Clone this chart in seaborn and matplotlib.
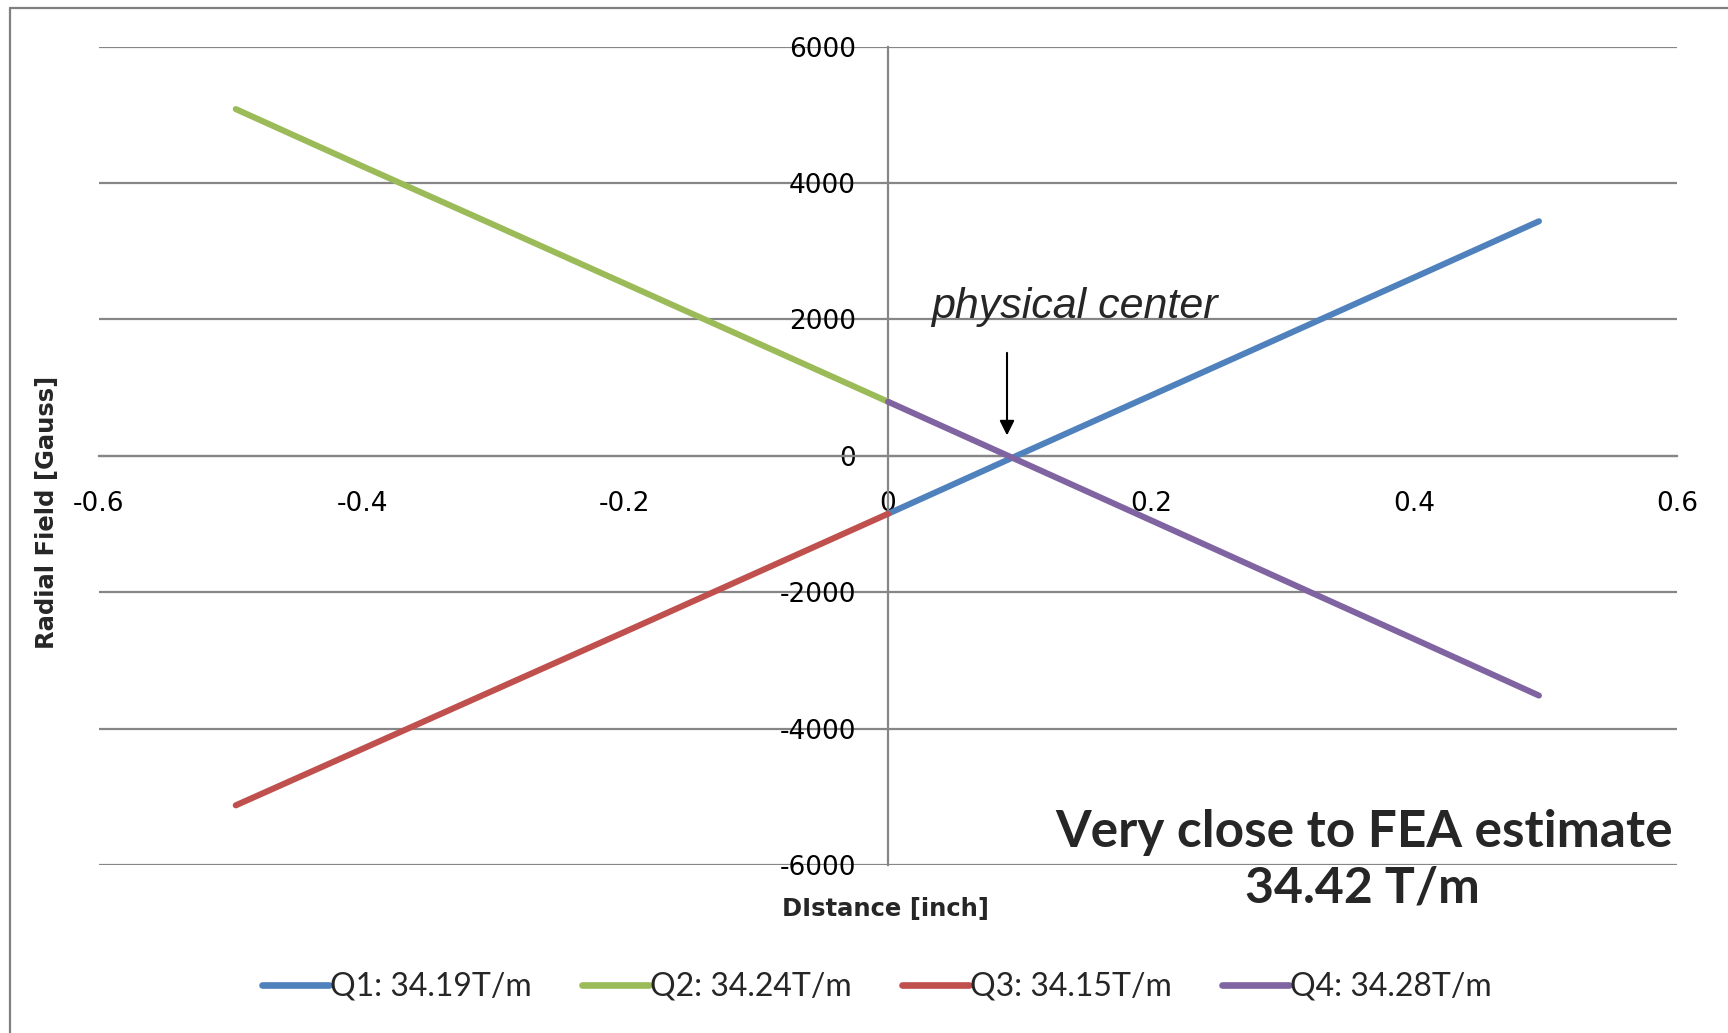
import matplotlib
matplotlib.use("Agg")
import matplotlib.pyplot as plt
import pandas as pd
import seaborn as sns
from matplotlib.lines import Line2D

# Radial field measured across each quadrant (distance in inch, field in Gauss)
q1_x = [0.0, 0.1, 0.2, 0.3, 0.4, 0.495]
q1_y = [-850, 20, 885, 1750, 2615, 3440]
q2_x = [-0.496, -0.4, -0.3, -0.2, -0.1, 0.0]
q2_y = [5085, 4250, 3390, 2525, 1660, 794]
q3_x = [-0.496, -0.4, -0.3, -0.2, -0.1, 0.0]
q3_y = [-5125, -4300, -3440, -2580, -1715, -850]
q4_x = [0.0, 0.1, 0.2, 0.3, 0.4, 0.495]
q4_y = [794, -75, -945, -1815, -2685, -3515]

series_labels = ["Q1: 34.19T/m", "Q2: 34.24T/m", "Q3: 34.15T/m", "Q4: 34.28T/m"]
series_colors = ["#4F81BD", "#9BBB59", "#C0504D", "#8064A2"]

x_ticks = [-0.6, -0.4, -0.2, 0.0, 0.2, 0.4, 0.6]
x_tick_labels = ["-0.6", "-0.4", "-0.2", "0", "0.2", "0.4", "0.6"]
y_ticks = [-6000, -4000, -2000, 0, 2000, 4000, 6000]
y_tick_labels = ["-6000", "-4000", "-2000", "0", "2000", "4000", "6000"]

center_note = "physical center"
center_x = 0.0905
estimate_note = ["Very close to FEA estimate", "34.42 T/m"]

sns.set_style("white")
plt.rcParams["font.family"] = ["DejaVu Sans"]
plt.rcParams["axes.unicode_minus"] = False

frames = []
for lab, xs, ys in zip(series_labels, [q1_x, q2_x, q3_x, q4_x], [q1_y, q2_y, q3_y, q4_y]):
    frames.append(pd.DataFrame({"x": xs, "y": ys, "series": lab}))
df = pd.concat(frames, ignore_index=True)

W, H = 1728, 1033
fig = plt.figure(figsize=(W / 100, H / 100), dpi=100)
ax = fig.add_axes([99 / W, 1 - 865 / H, (1677 - 99) / W, (865 - 46.7) / H])

grid_col = "#868686"
sns.lineplot(data=df, x="x", y="y", hue="series", hue_order=series_labels,
             palette=dict(zip(series_labels, series_colors)), sort=False,
             estimator=None, lw=4.4, legend=False, ax=ax, zorder=3)

ax.set_xlim(-0.6, 0.6)
ax.set_ylim(-6000, 6000)
ax.set_xticks(x_ticks, x_tick_labels)
ax.set_yticks(y_ticks, y_tick_labels)
ax.grid(axis="y", color=grid_col, lw=1.6)
ax.grid(axis="x", visible=False)
ax.set_axisbelow(True)
ax.set_xlabel("")
ax.set_ylabel("")

for side in ["top", "right"]:
    ax.spines[side].set_visible(False)
for side in ["left", "bottom"]:
    ax.spines[side].set_position(("data", 0))
    ax.spines[side].set_color(grid_col)
    ax.spines[side].set_linewidth(1.6)

ax.tick_params(axis="x", length=0, pad=25, labelsize=19, colors="black")
ax.tick_params(axis="y", length=0, pad=23, labelsize=19, colors="black")

# annotation for the crossing point
ax.text(0.033, 2020, center_note, fontsize=31, style="italic",
        family=["Liberation Sans", "DejaVu Sans"], ha="left", va="baseline")
ax.annotate("", xy=(center_x, 300), xytext=(center_x, 1510),
            arrowprops=dict(arrowstyle="-|>", color="black", lw=1.5,
                            mutation_scale=22, shrinkA=0, shrinkB=0))

# axis titles
fig.text(47 / W, 1 - 512 / H, "Radial Field [Gauss]", rotation=90, ha="center",
         va="center", fontsize=17.5, fontweight="bold", family=["DejaVu Sans"])
fig.text(886 / W, 1 - 909 / H, "DIstance [inch]", ha="center", va="center",
         fontsize=17.5, fontweight="bold", family=["DejaVu Sans"])

# comparison note
fig.text(1364 / W, 1 - 832 / H, estimate_note[0], ha="center", va="center",
         fontsize=37, fontweight="bold", family=["Lato", "DejaVu Sans"])
fig.text(1362 / W, 1 - 888 / H, estimate_note[1], ha="center", va="center",
         fontsize=36, fontweight="bold", family=["Lato", "DejaVu Sans"])

handles = [Line2D([0], [0], color=c, lw=4.8) for c in series_colors]
fig.legend(handles, series_labels, loc="center", bbox_to_anchor=(877 / W, 1 - 987 / H),
           ncol=4, frameon=False, prop={"family": ["Lato", "DejaVu Sans"], "size": 23},
           handlelength=2.1, handletextpad=0.05, columnspacing=1.55)

# outer chart frame
frame_col = "#808080"
fig.add_artist(Line2D([10 / W, 10 / W], [0, 1 - 8 / H], transform=fig.transFigure,
                      color=frame_col, lw=1.6))
fig.add_artist(Line2D([10 / W, 1], [1 - 8 / H, 1 - 8 / H], transform=fig.transFigure,
                      color=frame_col, lw=1.6))

fig.savefig("out.png", dpi=100)
